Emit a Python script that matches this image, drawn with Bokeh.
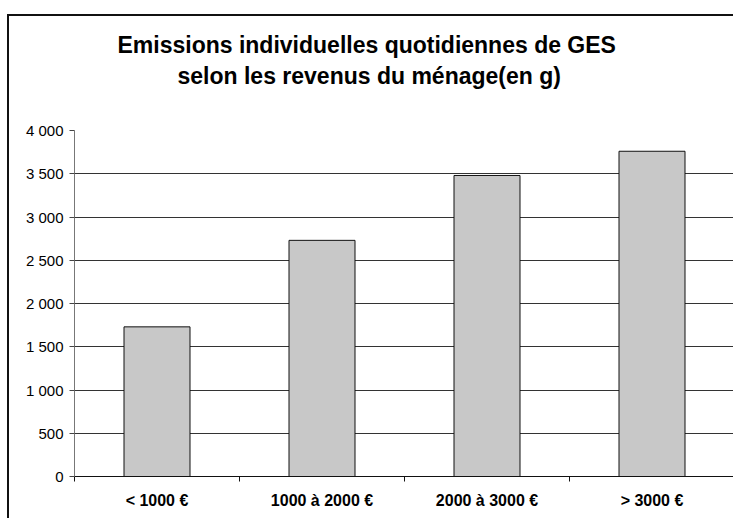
from bokeh.plotting import figure
from bokeh.models import Range1d, FixedTicker, Title, ColumnDataSource
from bokeh.embed import file_html
from bokeh.resources import INLINE

# ---- data ----
categories = ["< 1000 €", "1000 à 2000 €", "2000 à 3000 €", "> 3000 €"]
emissions = [1730, 2730, 3480, 3760]
y_ticks = [0, 500, 1000, 1500, 2000, 2500, 3000, 3500, 4000]
y_tick_labels = ["0", "500", "1 000", "1 500", "2 000", "2 500", "3 000", "3 500", "4 000"]
title_lines = ["Emissions individuelles quotidiennes de GES",
               "selon les revenus du ménage(en g)"]

# ---- layout ----
W, H = 726, 504
BL, BR, BT, BB = 65, 0, 114, 44
CAT_PX = 165.0
frame_w = W - BL - BR
x_end = frame_w / CAT_PX

FONT = "Liberation Sans"

p = figure(width=W, height=H, output_backend="svg", toolbar_location=None,
           title=None,
           x_range=Range1d(0, x_end), y_range=Range1d(0, 4000),
           min_border_left=BL, min_border_right=BR, min_border_top=BT,
           min_border_bottom=BB)
p.styles = {"border-left": "2px solid #111111", "border-top": "2px solid #111111",
            "margin-top": "14px", "margin-left": "7px"}
p.outline_line_color = None
p.background_fill_color = "white"
p.border_fill_color = "white"

xs = [i + 0.5 for i in range(len(categories))]
src = ColumnDataSource(dict(x=xs, top=emissions, cat=categories))
p.vbar(x="x", top="top", width=0.4, bottom=0, source=src,
       fill_color="#c8c8c8", line_color="#111111", line_width=1)

# grid
p.xgrid.visible = False
p.ygrid.ticker = FixedTicker(ticks=y_ticks)
p.ygrid.grid_line_color = "#333333"
p.ygrid.grid_line_width = 1

# y axis
ya = p.yaxis[0]
ya.ticker = FixedTicker(ticks=y_ticks)
ya.major_label_overrides = {t: l for t, l in zip(y_ticks, y_tick_labels)}
ya.major_label_text_font = FONT
ya.major_label_text_font_size = "15px"
ya.major_label_text_color = "black"
ya.axis_line_color = "#777777"
ya.major_tick_line_color = "#444444"
ya.major_tick_out = 5
ya.major_tick_in = 0
ya.minor_tick_line_color = None
ya.major_label_standoff = 6

# x axis
xa = p.xaxis[0]
xa.ticker = FixedTicker(ticks=xs, minor_ticks=list(range(len(categories) + 1)))
xa.major_label_overrides = {x: c for x, c in zip(xs, categories)}
xa.major_label_text_font = FONT
xa.major_label_text_font_style = "bold"
xa.major_label_text_font_size = "16px"
xa.major_label_text_color = "black"
xa.axis_line_color = "#111111"
xa.major_tick_line_color = None
xa.major_tick_out = 0
xa.minor_tick_line_color = "#111111"
xa.minor_tick_out = 5
xa.minor_tick_in = 0
xa.major_label_standoff = 10

# spacer between frame and title block
p.add_layout(Title(text=" ", standoff=37, text_font_size="1px"), "above")

# title (two lines): second line first (closest to the frame)
TITLE_SIZE = 23
offsets = [43, 103]
standoffs = [3, 3]
for txt, off, so in reversed(list(zip(title_lines, offsets, standoffs))):
    p.add_layout(Title(text=txt, align="left", offset=off, standoff=so,
                       text_font=FONT, text_font_style="bold",
                       text_font_size=f"{TITLE_SIZE}px", text_color="black"), "above")

open("out.html", "w").write(file_html(p, INLINE))
